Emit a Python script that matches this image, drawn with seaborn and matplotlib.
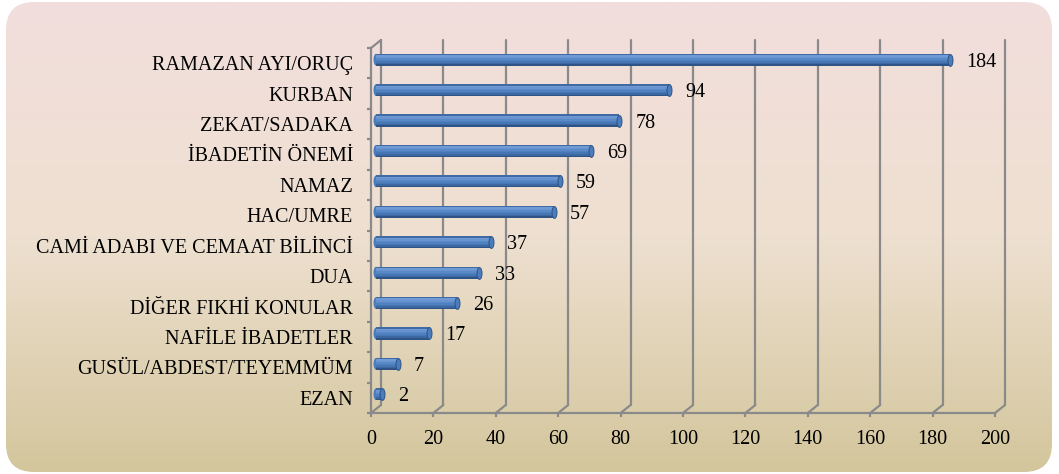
import numpy as np
import matplotlib
matplotlib.use("Agg")
import matplotlib.pyplot as plt
import matplotlib.transforms as mtransforms
from matplotlib.patches import FancyBboxPatch
from matplotlib.path import Path
import seaborn as sns
import pandas as pd

categories = ["RAMAZAN AYI/ORUÇ", "KURBAN", "ZEKAT/SADAKA", "İBADETİN ÖNEMİ", "NAMAZ",
              "HAC/UMRE", "CAMİ ADABI VE CEMAAT BİLİNCİ", "DUA", "DİĞER FIKHİ KONULAR",
              "NAFİLE İBADETLER", "GUSÜL/ABDEST/TEYEMMÜM", "EZAN"]
values = [184, 94, 78, 69, 59, 57, 37, 33, 26, 17, 7, 2]
x_ticks = [0, 20, 40, 60, 80, 100, 120, 140, 160, 180, 200]

sns.set_theme(style="white")
plt.rcParams["font.family"] = ["Liberation Serif", "DejaVu Serif"]

W, H = 1059, 474
fig = plt.figure(figsize=(W / 100, H / 100), dpi=100)
fig.patch.set_facecolor("white")

# gradient rounded background
bg = fig.add_axes([0, 0, 1, 1])
bg.set_axis_off()
bg.set_xlim(0, W)
bg.set_ylim(H, 0)
g = np.linspace(0, 1, 256)[:, None, None]
top = np.array([242, 222, 221]) / 255
mid_c = np.array([238, 224, 208]) / 255
bot = np.array([211, 198, 156]) / 255
img = np.where(g < 0.5, top + (mid_c - top) * (g / 0.5), mid_c + (bot - mid_c) * ((g - 0.5) / 0.5))
im = bg.imshow(img, extent=[6, 1052, 472, 2], aspect="auto", zorder=0, interpolation="bilinear")
frame = FancyBboxPatch((6, 2), 1046, 470, boxstyle="round,pad=0,rounding_size=28",
                       transform=bg.transData, facecolor="none", edgecolor="none")
bg.add_patch(frame)
im.set_clip_path(frame)

n = len(categories)
ax_l, ax_r, ax_t, ax_b = 371, 995, 48, 413
ax = fig.add_axes([ax_l / W, 1 - ax_b / H, (ax_r - ax_l) / W, (ax_b - ax_t) / H])
ax.patch.set_alpha(0)

gc = "#8a8a8a"
bar_h = 0.40
df = pd.DataFrame({"category": categories, "value": values})
sns.barplot(data=df, x="value", y="category", orient="h", color="#4f81bd",
            width=bar_h, saturation=1, ax=ax, zorder=3)

ax.set_xlim(0, 200)
ax.set_ylim(n - 0.5, -0.5)

back = ax.transData + mtransforms.ScaledTranslation(10 / 100, 8 / 100, fig.dpi_scale_trans)
midt = ax.transData + mtransforms.ScaledTranslation(5 / 100, 3.5 / 100, fig.dpi_scale_trans)

for p in ax.patches:
    p.set_transform(midt)
    p.set_linewidth(0)

ypos = np.arange(n)
# cylinder shading strips (top light -> bottom dark)
strip_cols = ["#3f6aa3", "#6f9ad4", "#6893d0", "#5a89c8", "#4f80bf", "#4676b3", "#3c67a0", "#2e5385"]
ns = len(strip_cols)
sh = bar_h / ns
for k, c in enumerate(strip_cols):
    yc = ypos - bar_h / 2 + sh * (k + 0.5)
    bars = ax.barh(yc, values, height=sh * 1.02, color=c, zorder=4, linewidth=0)
    for p in bars:
        p.set_transform(midt)

# end caps
th = np.linspace(0, 2 * np.pi, 60)
ell = Path(np.column_stack([0.42 * np.cos(th), np.sin(th)]), closed=True)
ax.scatter(values, ypos, marker=ell, s=72, color="#4b7cbb", edgecolor="#2e5385",
           linewidth=0.7, zorder=5, transform=midt, clip_on=False)
ax.scatter(np.zeros(n), ypos, marker=ell, s=72, color="#4b7cbb", edgecolor="none",
           linewidth=0, zorder=3.5, transform=midt, clip_on=False)

# 3D back wall gridlines
for t in x_ticks:
    ax.plot([t, t], [-0.5, n - 0.5], color=gc, lw=1.6, transform=back, clip_on=False, zorder=1)
dx = 10 * 200 / (ax_r - ax_l)
dy = 8 * n / (ax_b - ax_t)
for t in x_ticks:
    ax.plot([t, t + dx], [n - 0.5, n - 0.5 - dy], color=gc, lw=1.6, clip_on=False, zorder=1)
ax.plot([0, dx], [-0.5, -0.5 - dy], color=gc, lw=1.6, clip_on=False, zorder=1)

# value labels
for i, v in enumerate(values):
    ax.annotate(str(v), xy=(v, i), xytext=(15, 0.7), textcoords="offset points",
                ha="left", va="center", fontsize=14.5, color="black", zorder=6)

for s in ["top", "right"]:
    ax.spines[s].set_visible(False)
for s in ["left", "bottom"]:
    ax.spines[s].set_color(gc)
    ax.spines[s].set_linewidth(1.6)

ax.set_xticks(x_ticks)
ax.set_xticklabels([str(t) for t in x_ticks])
ax.set_yticks(ypos)
ax.set_yticklabels(categories)
ax.set_yticks(np.arange(-0.5, n, 1), minor=True)
ax.tick_params(axis="x", which="major", length=3, width=1.6, color=gc, pad=9,
               labelsize=14.5, labelcolor="black", bottom=True)
ax.tick_params(axis="y", which="major", length=0, pad=13, labelsize=14.5, labelcolor="black")
ax.tick_params(axis="y", which="minor", length=3, width=1.6, color=gc, left=True)
ax.set_xlabel("")
ax.set_ylabel("")
ax.grid(False)

fig.savefig("out.png", dpi=100)
